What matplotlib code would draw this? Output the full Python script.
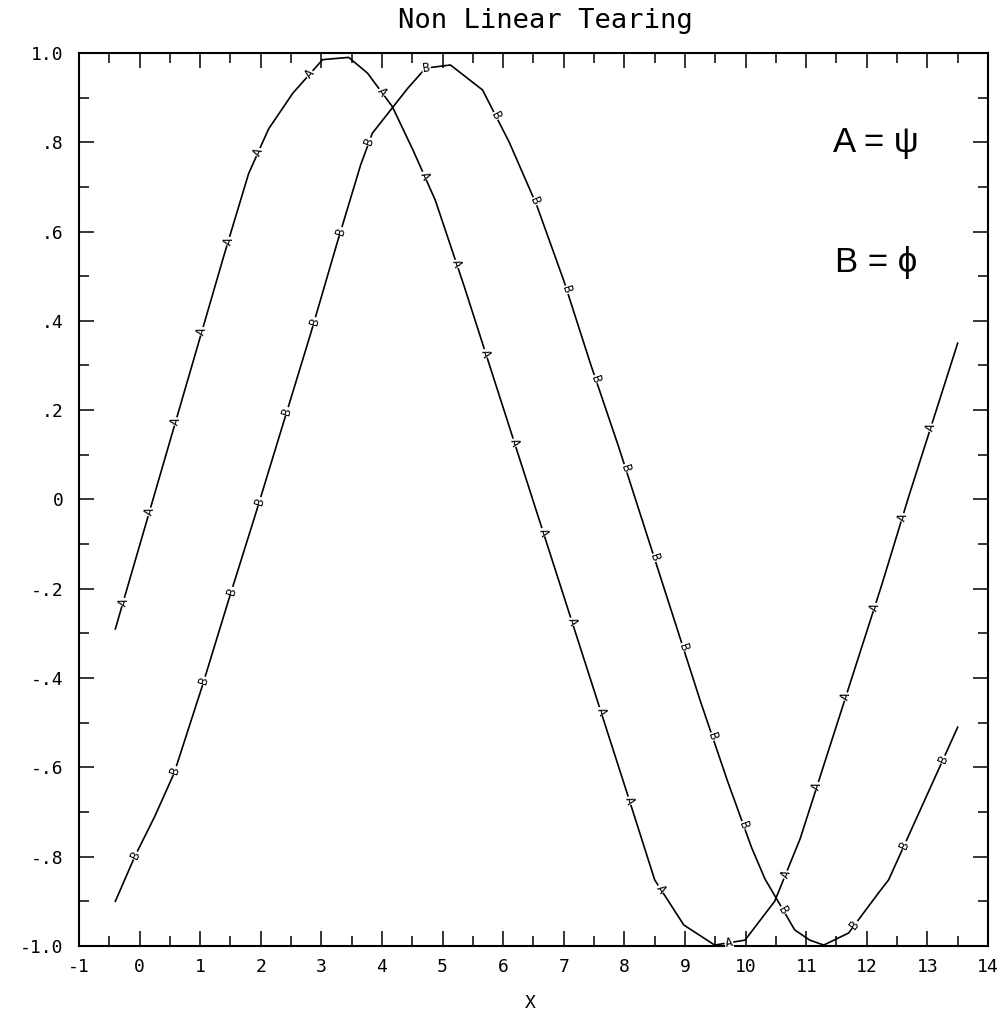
import numpy as np
import matplotlib
matplotlib.use("Agg")
import matplotlib.pyplot as plt
from matplotlib.ticker import MultipleLocator, FixedLocator

# curve A (psi)
a_x = [-0.40, 0.05, 0.50, 0.95, 1.40, 1.80, 2.13, 2.53, 3.02, 3.45, 3.76, 4.17,
       4.52, 4.88, 5.35, 5.80, 6.25, 6.70, 7.15, 7.60, 8.05, 8.50, 8.98, 9.49,
       9.99, 10.48, 10.90, 11.35, 11.80, 12.25, 12.70, 13.10, 13.50]
a_y = [-0.29, -0.08, 0.13, 0.34, 0.55, 0.73, 0.83, 0.91, 0.985, 0.99, 0.955, 0.88,
       0.78, 0.67, 0.48, 0.29, 0.10, -0.09, -0.28, -0.47, -0.66, -0.852, -0.953, -0.998,
       -0.987, -0.90, -0.76, -0.57, -0.38, -0.19, 0.01, 0.18, 0.35]

# curve B (phi)
b_x = [-0.40, -0.24, -0.08, 0.25, 0.57, 1.03, 1.47, 1.92, 2.37, 2.82, 3.25, 3.65,
       3.84, 4.42, 4.72, 5.13, 5.66, 6.10, 6.55, 7.00, 7.45, 7.90, 8.35, 8.80,
       9.25, 9.70, 10.10, 10.32, 10.60, 10.81, 11.06, 11.29, 11.70, 12.20, 12.36,
       12.80, 13.20, 13.50]
b_y = [-0.90, -0.85, -0.80, -0.71, -0.613, -0.42, -0.225, -0.03, 0.17, 0.37, 0.57, 0.75,
       0.82, 0.92, 0.966, 0.973, 0.917, 0.80, 0.66, 0.49, 0.30, 0.12, -0.07, -0.26,
       -0.45, -0.63, -0.78, -0.85, -0.915, -0.964, -0.987, -0.998, -0.971, -0.88, -0.852,
       -0.72, -0.60, -0.51]

x_ticks = list(range(-1, 15))
x_labels = ["-1", "0", "1", "2", "3", "4", "5", "6", "7", "8", "9", "10", "11", "12", "13", "14"]
y_ticks = [1.0, 0.8, 0.6, 0.4, 0.2, 0.0, -0.2, -0.4, -0.6, -0.8, -1.0]
y_labels = ["1.0", ".8", ".6", ".4", ".2", "0", "-.2", "-.4", "-.6", "-.8", "-1.0"]

mono = "DejaVu Sans Mono"

fig = plt.figure(figsize=(10.06, 10.14), dpi=100)
ax = fig.add_axes([0.0785, 0.0671, 0.9036, 0.8807])
ax.set_xlim(-1, 14)
ax.set_ylim(-1, 1)

for s in ax.spines.values():
    s.set_linewidth(1.5)

ax.xaxis.set_major_locator(FixedLocator(x_ticks))
ax.xaxis.set_minor_locator(MultipleLocator(0.5))
ax.yaxis.set_major_locator(FixedLocator(y_ticks))
ax.yaxis.set_minor_locator(MultipleLocator(0.1))
ax.set_xticklabels(x_labels)
ax.set_yticklabels(y_labels)
ax.tick_params(which="both", direction="in", top=True, right=True, width=1.1)
ax.tick_params(which="major", length=11)
ax.tick_params(which="minor", length=7)
ax.tick_params(axis="x", pad=9)
ax.tick_params(axis="y", pad=11)
for lab in ax.get_xticklabels() + ax.get_yticklabels():
    lab.set_fontfamily(mono)
    lab.set_fontsize(13)

ax.plot(a_x, a_y, color="black", lw=1.2, zorder=2)
ax.plot(b_x, b_y, color="black", lw=1.2, zorder=2)

fig.canvas.draw()


def put_labels(xs, ys, letter, first, step):
    # letters written along the curve at equal arc-length steps
    pts = ax.transData.transform(np.column_stack([xs, ys]))
    seg = np.hypot(np.diff(pts[:, 0]), np.diff(pts[:, 1]))
    cum = np.concatenate([[0], np.cumsum(seg)])
    d = first
    while d < cum[-1] - 10:
        i = np.searchsorted(cum, d) - 1
        t = (d - cum[i]) / seg[i]
        p = pts[i] + t * (pts[i + 1] - pts[i])
        ang = np.degrees(np.arctan2(pts[i + 1, 1] - pts[i, 1], pts[i + 1, 0] - pts[i, 0]))
        xd, yd = ax.transData.inverted().transform(p)
        ax.text(xd, yd, letter, rotation=ang, rotation_mode="anchor",
                ha="center", va="center", fontsize=9, family=mono, zorder=3,
                bbox=dict(boxstyle="square,pad=0.05", fc="white", ec="none"))
        d += step


put_labels(a_x, a_y, "A", 28, 94)
put_labels(b_x, b_y, "B", 50, 94)

ax.text(12.15, 0.80, "A = \u03c8", ha="center", va="center", fontsize=25,
        family=["Liberation Sans", "DejaVu Sans"])
ax.text(12.15, 0.53, "B = \u03d5", ha="center", va="center", fontsize=25,
        family=["Liberation Sans", "DejaVu Sans"])

fig.text(0.542, 1 - 21 / 1014, "Non Linear Tearing", ha="center", va="center",
         fontsize=19.5, family=mono)
fig.text(530 / 1006, 1 - 1003 / 1014, "X", ha="center", va="center",
         fontsize=13, family=mono)

fig.savefig("out.png", dpi=100)
